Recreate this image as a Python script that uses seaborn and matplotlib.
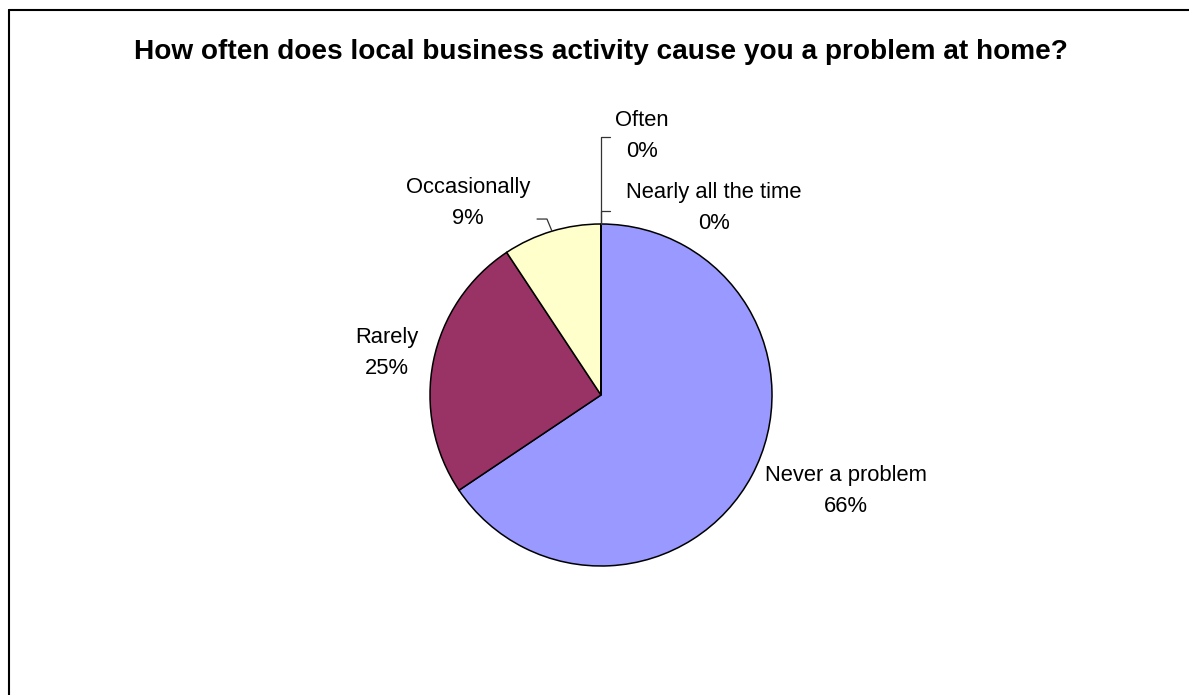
import matplotlib
matplotlib.use("Agg")
import matplotlib.pyplot as plt
from matplotlib.lines import Line2D
import seaborn as sns

# Data
categories = ["Never a problem", "Rarely", "Occasionally", "Often", "Nearly all the time"]
shares = [65.6, 25.1, 9.3, 0.0, 0.0]
colors = ["#9999FF", "#993366", "#FFFFCC", "#CCFFFF", "#660066"]

# label block centres, in pie-radius units
label_pos = [(1.433, -0.561), (-1.251, 0.246), (-0.778, 1.123), (0.240, 1.515), (0.661, 1.094)]

sns.set_style("white")
plt.rcParams["font.family"] = ["Liberation Sans", "DejaVu Sans"]
plt.rcParams["text.color"] = "black"

fig = plt.figure(figsize=(11.89, 6.95), dpi=100)
fig.patch.set_facecolor("white")

# border on top and left only
fig.add_artist(Line2D([9 / 1189, 9 / 1189], [0, 1 - 10 / 695], transform=fig.transFigure, color="black", lw=1.5))
fig.add_artist(Line2D([9 / 1189, 1], [1 - 10 / 695, 1 - 10 / 695], transform=fig.transFigure, color="black", lw=1.5))

fig.text(601 / 1189, 1 - 52 / 695, "How often does local business activity cause you a problem at home?",
         ha="center", va="center", fontsize=20.2, fontweight="bold", color="black")

ax = fig.add_axes([430 / 1189, 129 / 695, 342 / 1189, 342 / 695])
ax.pie(shares, colors=colors, startangle=90, counterclock=False, radius=1,
       wedgeprops=dict(edgecolor="black", linewidth=1.1))
ax.set_xlim(-1.0, 1.0)
ax.set_ylim(-1.0, 1.0)
ax.set_aspect("equal")
ax.axis("off")

for name, val, (x, y) in zip(categories, shares, label_pos):
    ax.text(x, y, f"{name}\n{val:.0f}%", ha="center", va="center", fontsize=15.8,
            linespacing=1.6, color="black", clip_on=False)

# leader lines
leaders = [
    ([-0.287, -0.316, -0.374], [0.959, 1.029, 1.029]),
    ([0.0, 0.0, 0.05], [1.0, 1.509, 1.509]),
    ([0.0, 0.0, 0.05], [1.0, 1.076, 1.076]),
]
for xs, ys in leaders:
    ax.plot(xs, ys, color="#333333", lw=0.9, clip_on=False)

fig.savefig("out.png", dpi=100, facecolor="white")
